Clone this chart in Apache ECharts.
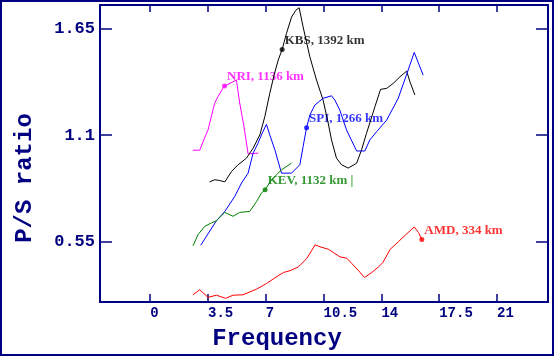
<!DOCTYPE html>
<html>
<head>
<meta charset="utf-8">
<script src="https://cdn.jsdelivr.net/npm/echarts@6/dist/echarts.min.js"></script>
<style>
html,body{margin:0;padding:0;background:#fff;}
#c{width:554px;height:356px;}
</style>
</head>
<body>
<div id="c"></div>
<script>
// ---- data ----
var xTicks = [0, 3.5, 7, 10.5, 14, 17.5, 21];
var yTicks = [0.55, 1.1, 1.65];

var nriFreq  = [2.58, 3.0, 3.2, 3.5, 3.9, 4.1, 4.4, 4.5, 5.22, 5.42, 5.68, 5.93, 6.55];
var nriRatio = [1.023, 1.023, 1.067, 1.127, 1.264, 1.298, 1.341, 1.353, 1.384, 1.266, 1.144, 1.004, 1.008];

var kbsFreq  = [3.6, 3.91, 4.21, 4.52, 4.92, 5.32, 5.83, 6.23, 6.64, 6.94, 7.24, 7.5, 7.75, 7.99, 8.25, 8.56, 8.82, 9.02, 9.26, 9.67, 10.07, 10.47, 10.78, 10.98, 11.28, 11.59, 11.99, 12.5, 12.8, 13.1, 13.61, 13.95, 14.32, 14.72, 15.12, 15.53, 15.73, 16.03];
var kbsRatio = [0.860, 0.871, 0.867, 0.860, 0.913, 0.948, 0.982, 1.033, 1.102, 1.195, 1.315, 1.409, 1.486, 1.541, 1.623, 1.708, 1.743, 1.756, 1.657, 1.503, 1.384, 1.281, 1.162, 1.076, 0.982, 0.948, 0.931, 0.956, 1.025, 1.110, 1.247, 1.336, 1.341, 1.367, 1.400, 1.430, 1.375, 1.307];

var spiFreq  = [3.06, 4.01, 4.52, 5.12, 5.53, 5.93, 6.23, 6.53, 6.78, 7.04, 7.24, 7.55, 7.95, 8.56, 9.06, 9.26, 9.47, 9.67, 9.97, 10.47, 10.98, 11.18, 11.48, 11.89, 12.5, 13.0, 13.3, 13.71, 14.32, 15.02, 15.62, 15.99, 16.53];
var spiRatio = [0.534, 0.660, 0.708, 0.785, 0.854, 0.905, 1.008, 1.059, 1.110, 1.156, 1.102, 1.025, 0.905, 0.905, 0.948, 1.042, 1.139, 1.204, 1.255, 1.290, 1.303, 1.281, 1.230, 1.127, 1.019, 1.019, 1.076, 1.118, 1.178, 1.290, 1.435, 1.526, 1.409];

var kevFreq  = [2.59, 2.9, 3.3, 3.71, 4.01, 4.52, 5.02, 5.42, 6.03, 6.44, 6.74, 6.96, 7.35, 7.95, 8.55];
var kevRatio = [0.531, 0.589, 0.631, 0.649, 0.660, 0.703, 0.683, 0.703, 0.708, 0.759, 0.803, 0.819, 0.871, 0.922, 0.956];

var amdFreq  = [2.59, 3.0, 3.5, 4.01, 4.56, 5.02, 5.62, 6.44, 7.04, 7.67, 8.07, 8.47, 8.98, 9.48, 9.99, 10.29, 10.8, 11.1, 11.5, 11.91, 12.21, 12.62, 12.98, 13.42, 13.83, 14.09, 14.53, 15.04, 15.55, 15.99, 16.25, 16.45];
var amdRatio = [0.279, 0.305, 0.266, 0.277, 0.261, 0.277, 0.279, 0.308, 0.337, 0.373, 0.394, 0.403, 0.423, 0.466, 0.536, 0.526, 0.513, 0.496, 0.474, 0.467, 0.440, 0.403, 0.368, 0.394, 0.423, 0.445, 0.513, 0.553, 0.594, 0.628, 0.599, 0.563];

var stationNames  = ['NRI, 1136 km', 'KBS, 1392 km', 'SPI, 1266 km', 'KEV, 1132 km |', 'AMD, 334 km'];
var markerFreq    = [4.5, 7.99, 9.47, 6.96, 16.45];
var markerRatio   = [1.353, 1.541, 1.139, 0.819, 0.563];
var stationColors = ['#ff00ff', '#000000', '#0000ff', '#008000', '#ff0000'];

// ---- build ----
function zip(a, b) { return a.map(function (v, i) { return [v, b[i]]; }); }
var lines = [zip(nriFreq, nriRatio), zip(kbsFreq, kbsRatio), zip(spiFreq, spiRatio), zip(kevFreq, kevRatio), zip(amdFreq, amdRatio)];

var NAVY = '#000080';
var XMIN = -3.04, XMAX = 24.09, YMIN = 0.242, YMAX = 1.77;

var series = [];
lines.forEach(function (d, i) {
  series.push({
    type: 'line', data: d, showSymbol: false, silent: true, animation: false,
    lineStyle: { color: stationColors[i], width: 1 }
  });
});
stationNames.forEach(function (name, i) {
  series.push({
    type: 'scatter', data: [[markerFreq[i], markerRatio[i]]], symbol: 'circle', symbolSize: 5,
    animation: false, silent: true,
    itemStyle: { color: stationColors[i] },
    label: {
      show: true, position: 'right', distance: 0, offset: [0, -9],
      formatter: name, color: stationColors[i],
      fontFamily: '"Liberation Serif", serif', fontWeight: 'bold', fontSize: 13
    }
  });
});

function xAx(pos, showLab, tickLen) {
  return {
    type: 'value', position: pos, min: XMIN, max: XMAX,
    axisLine: { show: true, onZero: false, lineStyle: { color: NAVY, width: 2 } },
    axisTick: { show: true, inside: true, length: tickLen, customValues: xTicks, lineStyle: { color: NAVY, width: 1.5 } },
    axisLabel: {
      show: showLab, customValues: xTicks, align: 'left', margin: 4, color: NAVY,
      fontFamily: '"Liberation Mono", monospace', fontWeight: 'bold', fontSize: 14
    },
    splitLine: { show: false }
  };
}
function yAx(pos, showLab) {
  return {
    type: 'value', position: pos, min: YMIN, max: YMAX,
    axisLine: { show: true, onZero: false, lineStyle: { color: NAVY, width: 2 } },
    axisTick: { show: true, inside: true, length: 12, customValues: yTicks, lineStyle: { color: NAVY, width: 1.5 } },
    axisLabel: {
      show: showLab, customValues: yTicks, margin: 5, color: NAVY,
      fontFamily: '"Liberation Mono", monospace', fontWeight: 'bold', fontSize: 17
    },
    splitLine: { show: false }
  };
}

var chart = echarts.init(document.getElementById('c'), null, { renderer: 'canvas' });
chart.setOption({
  backgroundColor: '#ffffff',
  animation: false,
  grid: { left: 100, right: 6, top: 5, bottom: 54 },
  xAxis: [xAx('bottom', true, 8), xAx('top', false, 7)],
  yAxis: [yAx('left', true), yAx('right', false)],
  series: series,
  graphic: [
    { type: 'rect', shape: { x: 1, y: 1, width: 552, height: 354 }, style: { fill: 'none', stroke: NAVY, lineWidth: 2 }, silent: true },
    { type: 'text', x: 277, y: 339, style: { text: 'Frequency', fill: NAVY, font: 'bold 24px "Liberation Mono", monospace', align: 'center', verticalAlign: 'middle' } },
    { type: 'text', x: 25, y: 178, rotation: Math.PI / 2, style: { text: 'P/S ratio', fill: NAVY, font: 'bold 24px "Liberation Mono", monospace', align: 'center', verticalAlign: 'middle' } }
  ]
});
</script>
</body>
</html>
